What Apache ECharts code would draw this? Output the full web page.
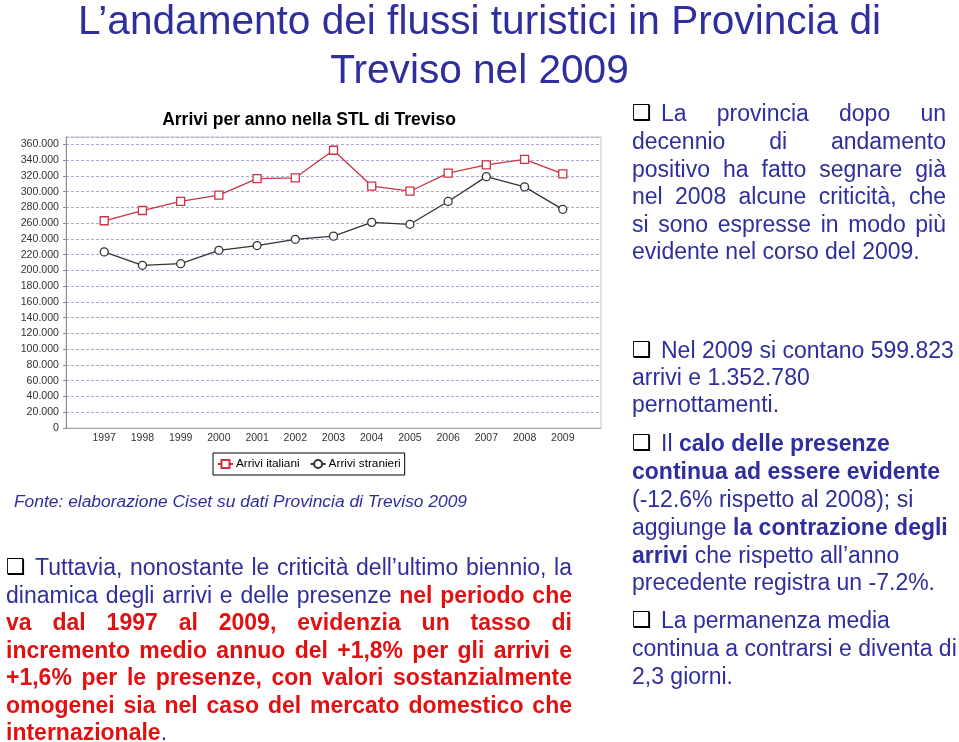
<!DOCTYPE html>
<html>
<head>
<meta charset="utf-8">
<script src="https://cdn.jsdelivr.net/npm/echarts@6/dist/echarts.min.js"></script>
<style>
  html, body { margin:0; padding:0; background:#fff; }
  body { width:959px; height:742px; position:relative; overflow:hidden; font-family:"Liberation Sans", Arial, sans-serif; }
  #chart { position:absolute; left:0; top:0; width:959px; height:742px; }
  .ln { position:absolute; height:28px; line-height:28px; font-size:23px; color:#2e2e9c; white-space:nowrap; }
  .j { text-align:justify; text-align-last:justify; white-space:normal; overflow:hidden; }
  .b { font-weight:bold; }
  .r { color:#e21010; font-weight:bold; }
  .bul { display:inline-block; width:29px; text-align:left; color:#000; font-family:"DejaVu Sans", sans-serif; font-size:22px; font-weight:bold; vertical-align:top; line-height:27px; }
  .title { position:absolute; left:0; width:959px; text-align:center; font-size:40.6px; line-height:50px; height:50px; color:#2e2e9c; white-space:nowrap; }
  .fonte { position:absolute; left:14px; top:490px; font-size:17.4px; line-height:22px; font-style:italic; color:#2e2e9c; white-space:nowrap; }
</style>
</head>
<body>
<div id="chart"></div>

<div class="title" style="top:-5px;">L’andamento dei flussi turistici in Provincia di</div>
<div class="title" style="top:44px;">Treviso nel 2009</div>

<div class="fonte">Fonte: elaborazione Ciset su dati Provincia di Treviso 2009</div>

<!-- left paragraph -->
<div class="ln j" style="left:6px;width:566px;top:553px;"><span class="bul">❑</span>Tuttavia, nonostante le criticità dell’ultimo biennio, la</div>
<div class="ln j" style="left:6px;width:566px;top:580.5px;">dinamica degli arrivi e delle presenze <span class="r">nel periodo che</span></div>
<div class="ln j r" style="left:6px;width:566px;top:608px;">va dal 1997 al 2009, evidenzia un tasso di</div>
<div class="ln j r" style="left:6px;width:566px;top:635.5px;">incremento medio annuo del +1,8% per gli arrivi e</div>
<div class="ln j r" style="left:6px;width:566px;top:663px;">+1,6% per le presenze, con valori sostanzialmente</div>
<div class="ln j r" style="left:6px;width:566px;top:690.5px;">omogenei sia nel caso del mercato domestico che</div>
<div class="ln" style="left:6px;top:718px;"><span class="r">internazionale</span>.</div>

<!-- right column block 1 -->
<div class="ln j" style="left:632px;width:314px;top:99px;"><span class="bul">❑</span>La provincia dopo un</div>
<div class="ln j" style="left:632px;width:314px;top:127px;">decennio di andamento</div>
<div class="ln j" style="left:632px;width:314px;top:154.5px;">positivo ha fatto segnare già</div>
<div class="ln j" style="left:632px;width:314px;top:182px;">nel 2008 alcune criticità, che</div>
<div class="ln j" style="left:632px;width:314px;top:209.5px;">si sono espresse in modo più</div>
<div class="ln" style="left:632px;top:237px;">evidente nel corso del 2009.</div>

<!-- block 2 -->
<div class="ln" style="left:632px;top:336px;"><span class="bul">❑</span>Nel 2009 si contano 599.823</div>
<div class="ln" style="left:632px;top:363px;">arrivi e 1.352.780</div>
<div class="ln" style="left:632px;top:390px;">pernottamenti.</div>

<!-- block 3 -->
<div class="ln" style="left:632px;top:429px;"><span class="bul">❑</span>Il <span class="b">calo delle presenze</span></div>
<div class="ln b" style="left:632px;top:457px;">continua ad essere evidente</div>
<div class="ln" style="left:632px;top:485px;">(-12.6% rispetto al 2008); si</div>
<div class="ln" style="left:632px;top:513px;">aggiunge <span class="b">la contrazione degli</span></div>
<div class="ln" style="left:632px;top:541px;"><span class="b">arrivi</span> che rispetto all’anno</div>
<div class="ln" style="left:632px;top:568px;">precedente registra un -7.2%.</div>

<!-- block 4 -->
<div class="ln" style="left:632px;top:606px;"><span class="bul">❑</span>La permanenza media</div>
<div class="ln" style="left:632px;top:634px;">continua a contrarsi e diventa di</div>
<div class="ln" style="left:632px;top:662px;">2,3 giorni.</div>

<script>
const chartTitle = 'Arrivi per anno nella STL di Treviso';
const years = [1997, 1998, 1999, 2000, 2001, 2002, 2003, 2004, 2005, 2006, 2007, 2008, 2009];
const seriesNames = ['Arrivi italiani', 'Arrivi stranieri'];
const arriviItaliani = [263000, 276000, 287500, 295500, 316500, 317500, 352500, 307000, 300500, 323500, 334000, 341000, 322500];
const arriviStranieri = [223500, 206500, 208500, 225500, 231500, 239500, 243500, 261000, 258500, 287500, 319000, 306000, 277500];
const yTickStep = 20000;
const yTickMax = 360000;

function fmtIt(v) {
  return String(v).replace(/\B(?=(\d{3})+(?!\d))/g, '.');
}

const chart = echarts.init(document.getElementById('chart'), null, { renderer: 'canvas' });
const font = '"Liberation Sans", Arial, sans-serif';

chart.setOption({
  animation: false,
  backgroundColor: 'transparent',
  textStyle: { fontFamily: font },
  title: {
    text: chartTitle,
    left: 309,
    top: 111,
    padding: 0,
    textAlign: 'center',
    textStyle: { fontSize: 17.5, fontWeight: 'bold', color: '#000', fontFamily: font }
  },
  legend: {
    left: 213,
    top: 453,
    padding: [5, 4],
    itemWidth: 15,
    itemHeight: 10,
    itemGap: 10,
    borderColor: '#000',
    borderWidth: 1,
    data: seriesNames,
    textStyle: { fontSize: 11.8, color: '#000', fontFamily: font, padding: [0, 0, 0, -2] }
  },
  grid: {
    left: 66, top: 137, width: 535, height: 291,
    show: true, borderColor: '#c4c4c4', borderWidth: 1,
    containLabel: false
  },
  xAxis: {
    type: 'value',
    min: 1996, max: 2010, interval: 1,
    axisLine: { show: true, lineStyle: { color: '#a8a8a8' } },
    axisTick: { show: false },
    splitLine: { show: false },
    axisLabel: {
      fontSize: 10.5, color: '#333', margin: 5, fontFamily: font,
      formatter: function (v) { return years.indexOf(v) >= 0 ? String(v) : ''; }
    }
  },
  yAxis: {
    type: 'value',
    min: 0, max: 369300, interval: yTickStep,
    axisLine: { show: true, lineStyle: { color: '#909090' } },
    axisTick: { show: true, length: 3, lineStyle: { color: '#909090' } },
    axisLabel: {
      fontSize: 10.6, color: '#333', margin: 7, fontFamily: font, showMaxLabel: false,
      formatter: function (v) { return (v % yTickStep === 0 && v <= yTickMax) ? fmtIt(v) : ''; }
    },
    splitLine: { show: true, lineStyle: { color: '#a8a8d0', type: [3, 2], width: 1 } }
  },
  series: [
    {
      name: seriesNames[0], type: 'line',
      data: years.map((y, i) => [y, arriviItaliani[i]]),
      symbol: 'rect', symbolSize: 8,
      lineStyle: { color: '#cc3344', width: 1.3 },
      itemStyle: { color: '#fff', borderColor: '#cc3344', borderWidth: 1.3 },
      z: 3
    },
    {
      name: seriesNames[1], type: 'line',
      data: years.map((y, i) => [y, arriviStranieri[i]]),
      symbol: 'circle', symbolSize: 8,
      lineStyle: { color: '#333', width: 1.3 },
      itemStyle: { color: '#fff', borderColor: '#333', borderWidth: 1.3 },
      z: 3
    }
  ]
});
</script>
</body>
</html>
